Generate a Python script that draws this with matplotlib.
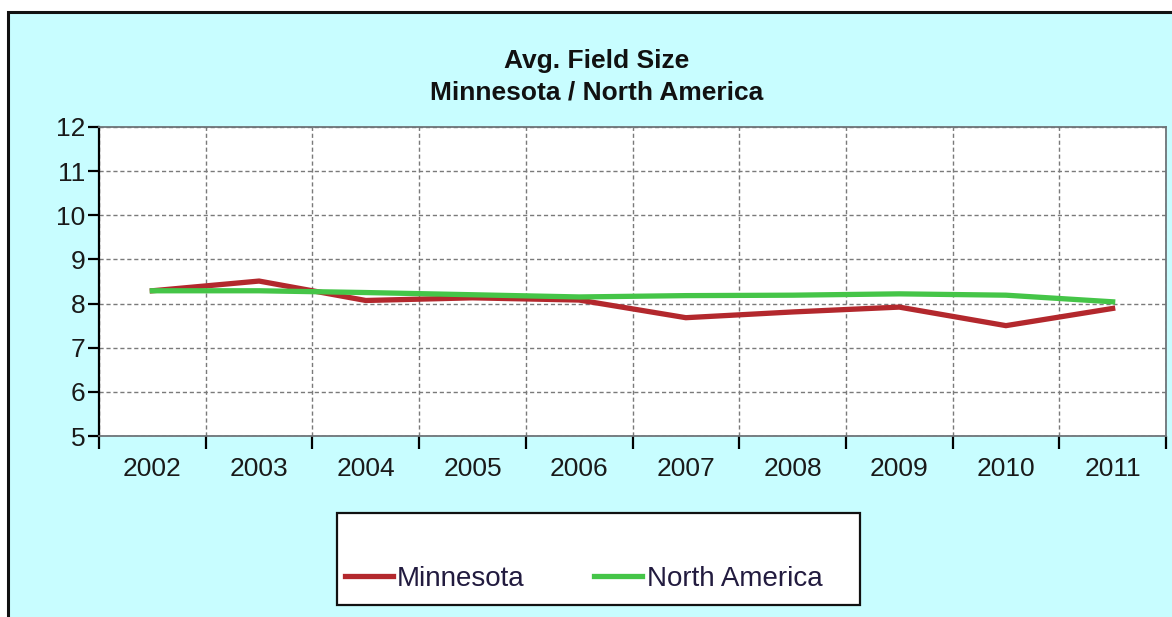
import matplotlib
matplotlib.use("Agg")
import matplotlib.pyplot as plt
from matplotlib.patches import Rectangle
import numpy as np

years = ["2002", "2003", "2004", "2005", "2006", "2007", "2008", "2009", "2010", "2011"]
minnesota = [8.29, 8.51, 8.07, 8.13, 8.08, 7.68, 7.81, 7.92, 7.50, 7.89]
north_america = [8.29, 8.29, 8.25, 8.20, 8.15, 8.18, 8.19, 8.22, 8.19, 8.04]
y_ticks = [5, 6, 7, 8, 9, 10, 11, 12]

plt.rcParams['font.family'] = ['Liberation Sans', 'DejaVu Sans']

W, H = 1172, 617
fig = plt.figure(figsize=(W / 100, H / 100), dpi=100)
fig.patch.set_facecolor('white')

bg = '#C8FDFF'
# outer panel
fig.patches.append(Rectangle((8 / W, -0.01), 1.05, (H - 12) / H + 0.01, transform=fig.transFigure,
                             facecolor=bg, edgecolor='#111111', linewidth=2.2, zorder=0))

ax = fig.add_axes([99 / W, (H - 436) / H, (1166 - 99) / W, (436 - 127) / H])
ax.set_zorder(2)
ax.set_facecolor('white')

x = np.arange(len(years))
ax.plot(x, minnesota, color='#B3282D', linewidth=3.8, solid_joinstyle='miter', zorder=3, label='Minnesota')
ax.plot(x, north_america, color='#45C548', linewidth=3.8, solid_joinstyle='miter', zorder=4, label='North America')

ax.set_xlim(-0.5, len(years) - 0.5)
ax.set_ylim(5, 12)
ax.set_yticks(y_ticks)
ax.set_yticklabels([str(v) for v in y_ticks])
ax.set_xticks(x)
ax.set_xticklabels(years)
ax.set_xticks(np.arange(-0.5, len(years), 1.0), minor=True)

ax.tick_params(axis='x', which='major', length=0, pad=15, labelsize=19, labelcolor='#1a1a1a')
ax.tick_params(axis='x', which='minor', length=9, width=1.6, direction='out', color='black')
ax.tick_params(axis='y', length=8, width=1.6, direction='out', color='black', labelsize=19,
               labelcolor='#1a1a1a', pad=2)

ax.grid(True, which='minor', axis='x', linestyle=(0, (3, 2)), color='#7A7A7A', linewidth=1)
ax.grid(True, which='major', axis='y', linestyle=(0, (3, 2)), color='#7A7A7A', linewidth=1)
ax.set_axisbelow(True)

for s in ['top', 'right', 'bottom']:
    ax.spines[s].set_color('#6E7478')
    ax.spines[s].set_linewidth(1.3)
ax.spines['left'].set_color('black')
ax.spines['left'].set_linewidth(1.6)

fig.text(597 / W, 1 - 61 / H, "Avg. Field Size", ha='center', va='center', fontsize=19,
         fontweight='bold', color='#111111')
fig.text(597 / W, 1 - 92 / H, "Minnesota / North America", ha='center', va='center', fontsize=19,
         fontweight='bold', color='#111111')

# legend box
fig.patches.append(Rectangle((337 / W, 1 - 605 / H), (860 - 337) / W, (605 - 513) / H,
                             transform=fig.transFigure, facecolor='white', edgecolor='#111111',
                             linewidth=1.6, zorder=1))
leg = fig.legend(loc='center left', bbox_to_anchor=(345 / W, 1 - 579 / H), ncol=2, frameon=False,
                 fontsize=20, handlelength=1.73, handletextpad=0.15, columnspacing=2.5,
                 borderpad=0, borderaxespad=0)
for t in leg.get_texts():
    t.set_color('#221B3F')
leg.set_zorder(5)

fig.savefig("out.png", dpi=100, facecolor=fig.get_facecolor())
